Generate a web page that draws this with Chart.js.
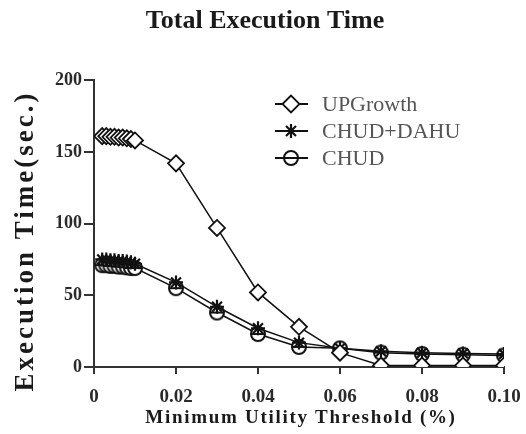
<!DOCTYPE html>
<html>
<head>
<meta charset="utf-8">
<script src="https://cdn.jsdelivr.net/npm/chart.js@4.4.0/dist/chart.umd.min.js"></script>
<style>
  html, body { margin: 0; padding: 0; background: #fff; }
  #wrap { width: 526px; height: 434px; }
</style>
</head>
<body>
<div id="wrap"><canvas id="execChart"></canvas></div>
<script>
// thresholds (%) and execution times (sec.)
const thresholds = [0.002, 0.003, 0.004, 0.005, 0.006, 0.007, 0.008, 0.009, 0.01,
                    0.02, 0.03, 0.04, 0.05, 0.06, 0.07, 0.08, 0.09, 0.10];
const upGrowth = [161, 161, 160.5, 160.5, 160, 160, 159.5, 159, 158,
                  142, 97, 52, 28, 10, 1, 1, 1, 1];
const chudDahu = [75, 75, 74.5, 74.5, 74, 74, 73.5, 73, 72,
                  59, 42, 27, 17, 13, 11, 10, 9.5, 9];
const chud = [71, 71, 70.5, 70.5, 70, 70, 69.5, 69, 69,
              55, 38, 23, 14, 13, 10, 9, 8.5, 8];
const seriesNames = ['UPGrowth', 'CHUD+DAHU', 'CHUD'];
const xTickLabels = ['0', '0.02', '0.04', '0.06', '0.08', '0.10'];
const yTicks = [0, 50, 100, 150, 200];

const serif = "'Liberation Serif', 'Times New Roman', serif";

// circle with a bar through it, for CHUD
function barCircle() {
  const c = document.createElement('canvas');
  c.width = 20; c.height = 20;
  const g = c.getContext('2d');
  g.lineWidth = 2;
  g.strokeStyle = '#111';
  g.fillStyle = '#fff';
  g.beginPath();
  g.arc(10, 10, 7, 0, Math.PI * 2);
  g.fill();
  g.stroke();
  g.beginPath();
  g.moveTo(3, 10);
  g.lineTo(17, 10);
  g.stroke();
  return c;
}
const chudMarker = barCircle();

function toPoints(ys) {
  return ys.map((y, i) => ({ x: thresholds[i], y: y }));
}

const datasets = [
  {
    label: seriesNames[0],
    data: toPoints(upGrowth),
    borderColor: '#111',
    borderWidth: 1.5,
    pointStyle: 'rectRot',
    pointRadius: 8,
    pointBorderWidth: 1.8,
    pointBackgroundColor: '#fff',
    pointBorderColor: '#111',
  },
  {
    label: seriesNames[1],
    data: toPoints(chudDahu),
    borderColor: '#111',
    borderWidth: 1.5,
    pointStyle: 'star',
    pointRadius: 7,
    pointBorderWidth: 2.2,
    pointBackgroundColor: '#111',
    pointBorderColor: '#111',
  },
  {
    label: seriesNames[2],
    data: toPoints(chud),
    borderColor: '#111',
    borderWidth: 1.5,
    pointStyle: chudMarker,
    pointRadius: 7,
  },
];

// axis titles with letter spacing plus an in-plot legend
const decorPlugin = {
  id: 'decor',
  afterDraw(chart) {
    const ctx = chart.ctx;
    ctx.save();
    ctx.fillStyle = '#1a1a1a';
    ctx.textAlign = 'center';
    ctx.textBaseline = 'alphabetic';

    ctx.font = 'bold 19px ' + serif;
    ctx.letterSpacing = '1.7px';
    ctx.fillText('Minimum Utility Threshold (%)', 301, 423);

    ctx.textBaseline = 'middle';
    ctx.translate(26, 241);
    ctx.rotate(-Math.PI / 2);
    ctx.font = 'bold 27px ' + serif;
    ctx.letterSpacing = '3px';
    ctx.fillText('Execution Time(sec.)', 0, 0);
    ctx.restore();

    ctx.save();
    ctx.letterSpacing = '0px';
    const rows = [104, 131, 158];
    chart.data.datasets.forEach((ds, i) => {
      const y = rows[i];
      ctx.strokeStyle = '#111';
      ctx.lineWidth = 2;
      ctx.beginPath();
      ctx.moveTo(275, y);
      ctx.lineTo(308, y);
      ctx.stroke();
      if (typeof ds.pointStyle === 'string') {
        ctx.fillStyle = ds.pointBackgroundColor;
        ctx.strokeStyle = ds.pointBorderColor;
        ctx.lineWidth = ds.pointBorderWidth;
      }
      Chart.helpers.drawPoint(ctx, {
        pointStyle: ds.pointStyle,
        radius: i === 0 ? 8.5 : 7,
        borderWidth: ds.pointBorderWidth || 2,
        rotation: 0,
      }, 291, y);
      ctx.fillStyle = '#555';
      ctx.font = '22px ' + serif;
      ctx.textAlign = 'left';
      ctx.textBaseline = 'middle';
      ctx.fillText(ds.label, 322, y + 1);
    });
    ctx.restore();
  }
};

const ctx = document.getElementById('execChart').getContext('2d');
new Chart(ctx, {
  type: 'line',
  data: { datasets: datasets },
  options: {
    responsive: true,
    maintainAspectRatio: false,
    animation: false,
    layout: { padding: { left: 26, right: 22, top: 0, bottom: 0 } },
    plugins: {
      legend: { display: false },
      tooltip: { enabled: false },
      title: {
        display: true,
        text: 'Total Execution Time',
        color: '#1a1a1a',
        font: { family: serif, size: 26, weight: 'bold' },
        padding: { top: 6, bottom: 43 },
      },
    },
    scales: {
      x: {
        type: 'linear',
        min: 0,
        max: 0.1,
        afterBuildTicks(scale) {
          scale.ticks = xTickLabels.map(v => ({ value: parseFloat(v) }));
        },
        afterFit(scale) {
          scale.height = 67;
          scale.paddingLeft = 0;
          scale.paddingRight = 0;
        },
        ticks: {
          color: '#2a2a2a',
          font: { family: serif, size: 19, weight: 'bold' },
          padding: 12,
          maxRotation: 0,
          callback: (v, i) => xTickLabels[i],
        },
        grid: {
          drawOnChartArea: false,
          drawTicks: true,
          tickLength: 7,
          color: '#333',
          lineWidth: 2,
        },
        border: { display: true, color: '#333', width: 2 },
      },
      y: {
        type: 'linear',
        min: 0,
        max: 200,
        afterBuildTicks(scale) {
          scale.ticks = yTicks.map(v => ({ value: v }));
        },
        afterFit(scale) { scale.width = 68; },
        ticks: {
          color: '#2a2a2a',
          font: { family: serif, size: 18, weight: 'bold' },
          padding: 2,
        },
        grid: {
          drawOnChartArea: false,
          drawTicks: true,
          tickLength: 10,
          color: '#333',
          lineWidth: 2,
        },
        border: { display: true, color: '#333', width: 2 },
      },
    },
  },
  plugins: [decorPlugin],
});
</script>
</body>
</html>
